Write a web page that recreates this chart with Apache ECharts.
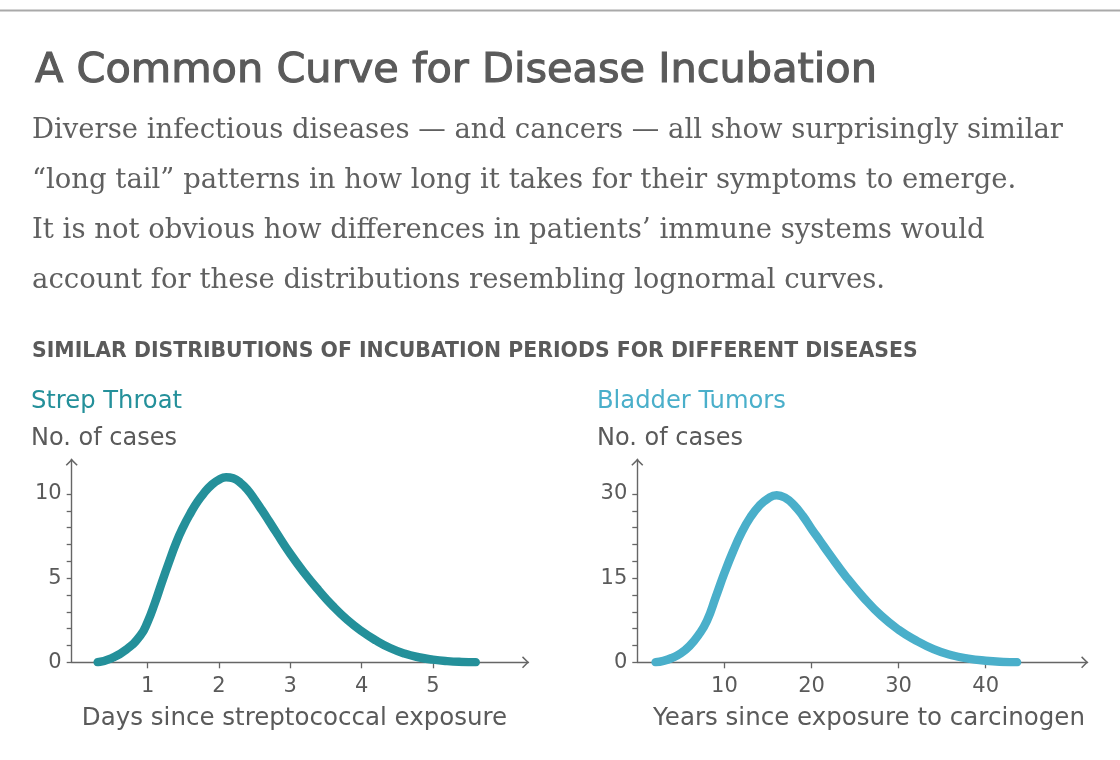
<!DOCTYPE html>
<html>
<head>
<meta charset="utf-8">
<script src="https://cdn.jsdelivr.net/npm/echarts@6/dist/echarts.min.js"></script>
<style>
html,body{margin:0;padding:0;background:#fff;}
#chart{width:1120px;height:760px;}
</style>
</head>
<body>
<div id="chart"></div>
<script>
// ---- data ----
const strepDays  = [0.3, 0.5, 0.7, 0.9, 1.0, 1.1, 1.2, 1.3, 1.4, 1.5, 1.6, 1.7, 1.8, 1.9, 2.0, 2.1, 2.2, 2.3, 2.4, 2.5, 2.6, 2.7, 2.8, 3.0, 3.2, 3.4, 3.6, 3.8, 4.0, 4.2, 4.4, 4.6, 4.8, 5.0, 5.2, 5.4, 5.6];
const strepCases = [0.0, 0.25, 0.75, 1.6, 2.4, 3.5, 4.75, 5.95, 7.1, 8.05, 8.85, 9.55, 10.1, 10.55, 10.85, 11.0, 10.93, 10.67, 10.25, 9.68, 9.05, 8.4, 7.74, 6.45, 5.3, 4.27, 3.33, 2.52, 1.85, 1.3, 0.85, 0.52, 0.3, 0.16, 0.07, 0.02, 0.0];
const bladderYears = [2.1, 3, 4, 5, 6, 7, 8, 9, 10, 11, 12, 13, 14, 15, 16, 17, 18, 19, 20, 21, 22, 24, 26, 28, 30, 32, 34, 36, 38, 40, 42, 43.6];
const bladderCases = [0.0, 0.25, 0.8, 1.6, 2.9, 4.8, 7.4, 11.6, 15.9, 19.8, 23.2, 25.9, 27.9, 29.2, 29.8, 29.3, 28.0, 26.1, 23.8, 21.6, 19.4, 15.2, 11.5, 8.3, 5.8, 3.9, 2.35, 1.3, 0.65, 0.28, 0.07, 0.0];

const strepXTicks = [1, 2, 3, 4, 5];
const strepYTicks = [0, 1, 2, 3, 4, 5, 6, 7, 8, 9, 10];
const strepYLabels = [0, 5, 10];
const bladderXTicks = [10, 20, 30, 40];
const bladderYTicks = [0, 3, 6, 9, 12, 15, 18, 21, 24, 27, 30];
const bladderYLabels = [0, 15, 30];

const titleText = 'A Common Curve for Disease Incubation';
const bodyLines = [
  'Diverse infectious diseases — and cancers — all show surprisingly similar',
  '“long tail” patterns in how long it takes for their symptoms to emerge.',
  'It is not obvious how differences in patients’ immune systems would',
  'account for these distributions resembling lognormal curves.'
];
const subheadText = 'SIMILAR DISTRIBUTIONS OF INCUBATION PERIODS FOR DIFFERENT DISEASES';
const panelTitles = ['Strep Throat', 'Bladder Tumors'];
const yAxisTitle = 'No. of cases';
const xAxisTitles = ['Days since streptococcal exposure', 'Years since exposure to carcinogen'];

// ---- styling ----
const SANS = '"DejaVu Sans", sans-serif';
const SERIF = '"DejaVu Serif", serif';
const GRAY = '#5a5a5a';
const BODY = '#606060';
const AXIS = '#666666';
const TEAL = '#24909a';
const BLUE = '#4aafca';
const chevron = 'path://M0,6 L6,0 L12,6 L10.9,7 L6,2.1 L1.1,7 Z';

const measureCtx = document.createElement('canvas').getContext('2d');
function fitSize(text, weight, family, width) {
  measureCtx.font = weight + ' 100px ' + family;
  return 100 * width / measureCtx.measureText(text).width;
}

function pairs(xs, ys) { return xs.map((x, i) => [x, ys[i]]); }

function xAxisCfg(idx, min, max, ticks) {
  return {
    type: 'value', gridIndex: idx, min: min, max: max,
    splitLine: { show: false },
    axisLine: { onZero: false, lineStyle: { color: AXIS, width: 1.4 }, symbol: ['none', chevron], symbolSize: [12, 7], symbolOffset: [0, -3] },
    axisTick: { show: true, length: 6, customValues: ticks, lineStyle: { color: AXIS, width: 1.3 } },
    axisLabel: { customValues: ticks, margin: 14, color: GRAY, fontFamily: SANS, fontSize: 21 }
  };
}
function yAxisCfg(idx, max, ticks, labels) {
  return {
    type: 'value', gridIndex: idx, min: 0, max: max,
    splitLine: { show: false },
    axisLine: { onZero: false, lineStyle: { color: AXIS, width: 1.4 }, symbol: ['none', chevron], symbolSize: [12, 7], symbolOffset: [0, -3] },
    axisTick: { show: true, length: 5, customValues: ticks, lineStyle: { color: AXIS, width: 1.3 } },
    axisLabel: { customValues: labels, margin: 10, color: GRAY, fontFamily: SANS, fontSize: 21 }
  };
}
function txt(text, x, y, size, weight, family, fill, align, strokeW) {
  const style = { text: text, font: weight + ' ' + size.toFixed(2) + 'px ' + family, fill: fill, align: align || 'left', verticalAlign: 'middle' };
  if (strokeW) { style.stroke = fill; style.lineWidth = strokeW; }
  return { type: 'text', x: x, y: y, silent: true, style: style };
}

const titleSize = fitSize(titleText, 'normal', SANS, 842);
const subSize = fitSize(subheadText, 'bold', SANS, 886);
const panelSize = fitSize(panelTitles[1], 'normal', SANS, 189);
const ySize = fitSize(yAxisTitle, 'normal', SANS, 146);
const xNameSize = fitSize(xAxisTitles[1], 'normal', SANS, 432);
const bodySize = fitSize(bodyLines[0], 'normal', SERIF, 1031);

const graphics = [
  { type: 'rect', shape: { x: 0, y: 9.5, width: 1120, height: 2 }, style: { fill: '#a9a9a9' }, silent: true },
  txt(titleText, 35, 71, titleSize, 'normal', SANS, GRAY, 'left', 1.1),
  txt(subheadText, 32, 352, subSize, 'bold', SANS, GRAY),
  txt(panelTitles[0], 31, 402, panelSize, 'normal', SANS, TEAL),
  txt(panelTitles[1], 597, 402, panelSize, 'normal', SANS, BLUE),
  txt(yAxisTitle, 31, 439, ySize, 'normal', SANS, GRAY),
  txt(yAxisTitle, 597, 439, ySize, 'normal', SANS, GRAY),
  txt(xAxisTitles[0], 294.5, 719, xNameSize, 'normal', SANS, GRAY, 'center'),
  txt(xAxisTitles[1], 869, 719, xNameSize, 'normal', SANS, GRAY, 'center')
];
bodyLines.forEach((l, i) => graphics.push(txt(l, 32, 131 + 50 * i, bodySize, 'normal', SERIF, BODY)));

const option = {
  backgroundColor: '#ffffff',
  animation: false,
  grid: [
    { left: 71.7, top: 459.3, width: 456.8, height: 203 },
    { left: 637.3, top: 459.3, width: 450.3, height: 203 }
  ],
  xAxis: [
    xAxisCfg(0, -0.064, 6.34, strepXTicks),
    xAxisCfg(1, 0, 51.7, bladderXTicks)
  ],
  yAxis: [
    yAxisCfg(0, 12.06, strepYTicks, strepYLabels),
    yAxisCfg(1, 36.19, bladderYTicks, bladderYLabels)
  ],
  series: [
    { type: 'line', name: panelTitles[0], xAxisIndex: 0, yAxisIndex: 0, data: pairs(strepDays, strepCases),
      smooth: 0.5, showSymbol: false, lineStyle: { color: TEAL, width: 8.5, cap: 'round', join: 'round' } },
    { type: 'line', name: panelTitles[1], xAxisIndex: 1, yAxisIndex: 1, data: pairs(bladderYears, bladderCases),
      smooth: 0.5, showSymbol: false, lineStyle: { color: BLUE, width: 8.5, cap: 'round', join: 'round' } }
  ],
  graphic: graphics
};
const chart = echarts.init(document.getElementById('chart'), null, { renderer: 'canvas' });
chart.setOption(option);
</script>
</body>
</html>
